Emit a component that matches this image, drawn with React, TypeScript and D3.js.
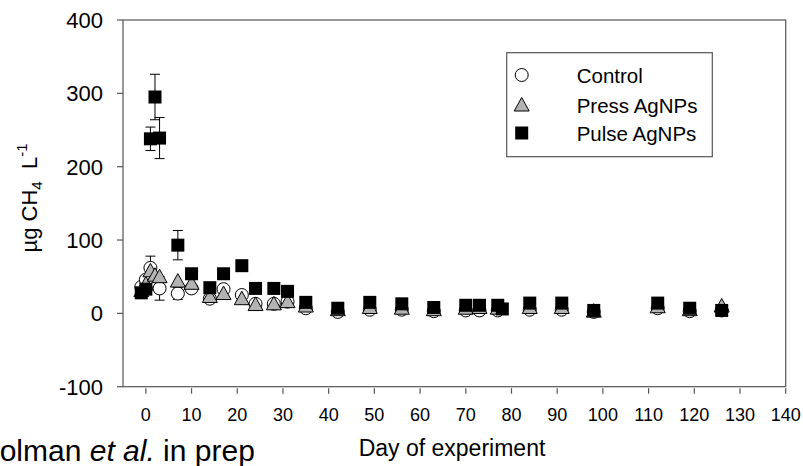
import * as d3 from 'd3'

// Values: [day, µg CH4 L-1, error]
const control: [number, number, number?][] = [
  [-1, 36], [0, 46], [1, 62, 16], [2, 44], [3, 34, 16], [7, 27, 8], [10, 34], [14, 20],
  [17, 33], [21, 25], [24, 13], [28, 13], [31, 16], [35, 7], [42, 2], [49, 5], [56, 5],
  [63, 3], [70, 4], [73, 4], [77, 4], [84, 5], [91, 5], [98, 2], [112, 7], [119, 3], [126, 4],
]
const press: [number, number, number?][] = [
  [-1, 31], [0, 40], [1, 58], [2, 52], [3, 50], [7, 44], [10, 41], [14, 23], [17, 27],
  [21, 20], [24, 12], [28, 13], [31, 16], [35, 10], [42, 5], [49, 8], [56, 7], [63, 5],
  [70, 7], [73, 8], [77, 7], [84, 8], [91, 8], [98, 3], [112, 9], [119, 5], [126, 10],
]
const pulse: [number, number, number?][] = [
  [-1, 28], [0, 33], [1, 238, 16], [2, 295, 31], [3, 239, 28], [7, 93, 20], [10, 54],
  [14, 35], [17, 54], [21, 65], [24, 34], [28, 34], [31, 30], [35, 15], [42, 7], [49, 15],
  [56, 13], [63, 8], [70, 11], [73, 11], [77, 11], [78, 6], [84, 14], [91, 14], [98, 4],
  [112, 14], [119, 7], [126, 4],
]
const xTicks = [0, 10, 20, 30, 40, 50, 60, 70, 80, 90, 100, 110, 120, 130, 140]
const yTicks = [-100, 0, 100, 200, 300, 400]
const legendLabels = ['Control', 'Press AgNPs', 'Pulse AgNPs']

const W = 803
const H = 466
const FONT = 'Arial, "Liberation Sans", sans-serif'
const AXIS = '#555'

const x = d3.scaleLinear().domain([-5, 140]).range([123, 785.7])
const y = d3.scaleLinear().domain([-100, 400]).range([386.7, 20])

function Marker({ kind, cx, cy }: { kind: string; cx: number; cy: number }) {
  if (kind === 'circle') {
    return <circle cx={cx} cy={cy} r={6.5} fill="#fff" stroke="#000" strokeWidth={1} />
  }
  if (kind === 'triangle') {
    const s = 7.5
    return (
      <path
        d={`M${cx},${cy - s}L${cx + s},${cy + s * 0.8}L${cx - s},${cy + s * 0.8}Z`}
        fill="#b3b3b3"
        stroke="#000"
        strokeWidth={1}
      />
    )
  }
  return <rect x={cx - 6.5} y={cy - 6.5} width={13} height={13} fill="#000" />
}

function Series({ data, kind }: { data: [number, number, number?][]; kind: string }) {
  return (
    <g>
      {data.map(([d, v, e], i) => (
        <g key={i}>
          {e ? (
            <g stroke="#000" strokeWidth={1}>
              <line x1={x(d)} x2={x(d)} y1={y(v + e)} y2={y(v - e)} />
              <line x1={x(d) - 5} x2={x(d) + 5} y1={y(v + e)} y2={y(v + e)} />
              <line x1={x(d) - 5} x2={x(d) + 5} y1={y(v - e)} y2={y(v - e)} />
            </g>
          ) : null}
          <Marker kind={kind} cx={x(d)} cy={y(v)} />
        </g>
      ))}
    </g>
  )
}

export default function App() {
  const [x0, x1] = x.range()
  const [yb, yt] = y.range()
  const kinds = ['circle', 'triangle', 'square']
  const legendY = [75, 105, 133]

  return (
    <svg
      width={W}
      height={H}
      style={{ position: 'absolute', left: 0, top: 0, background: '#fff' }}
      fontFamily={FONT}
    >
      {/* frame */}
      <rect x={x0} y={yt} width={x1 - x0} height={yb - yt} fill="none" stroke={AXIS} strokeWidth={1.2} />

      {/* y axis */}
      {yTicks.map(t => (
        <g key={t}>
          <line x1={x0 - 6} x2={x0} y1={y(t)} y2={y(t)} stroke={AXIS} strokeWidth={1.2} />
          <text x={103} y={y(t) + 8} textAnchor="end" fontSize={22} fill="#000">{t}</text>
        </g>
      ))}

      {/* x axis */}
      {xTicks.map(t => (
        <g key={t}>
          <line x1={x(t)} x2={x(t)} y1={yb + 1.5} y2={yb + 7} stroke={AXIS} strokeWidth={1.2} />
          <text x={x(t)} y={421} textAnchor="middle" fontSize={18} fill="#000">{t}</text>
        </g>
      ))}

      <text x={452} y={456} textAnchor="middle" fontSize={23} fill="#000">Day of experiment</text>

      <text transform="translate(37,198) rotate(-90)" textAnchor="middle" fontSize={22} fill="#000">
        µg CH<tspan fontSize={15} dy={5}>4</tspan>
        <tspan dy={-5}>{'\u00a0\u00a0'}L</tspan>
        <tspan fontSize={15} dy={-10}>-1</tspan>
      </text>

      {/* citation, cut at the left edge as in the source figure */}
      <text x={-22} y={461} fontSize={30} fill="#000">
        Colman <tspan fontStyle="italic">et al.</tspan> in prep
      </text>

      <Series data={control} kind="circle" />
      <Series data={press} kind="triangle" />
      <Series data={pulse} kind="square" />

      {/* legend */}
      <rect x={506.7} y={52.7} width={205.6} height={104} fill="#fff" stroke={AXIS} strokeWidth={1.2} />
      {legendLabels.map((l, i) => (
        <g key={l}>
          <Marker kind={kinds[i]} cx={521.7} cy={legendY[i]} />
          <text x={576.7} y={legendY[i] + 7.5} fontSize={20.5} fill="#000">{l}</text>
        </g>
      ))}
    </svg>
  )
}
